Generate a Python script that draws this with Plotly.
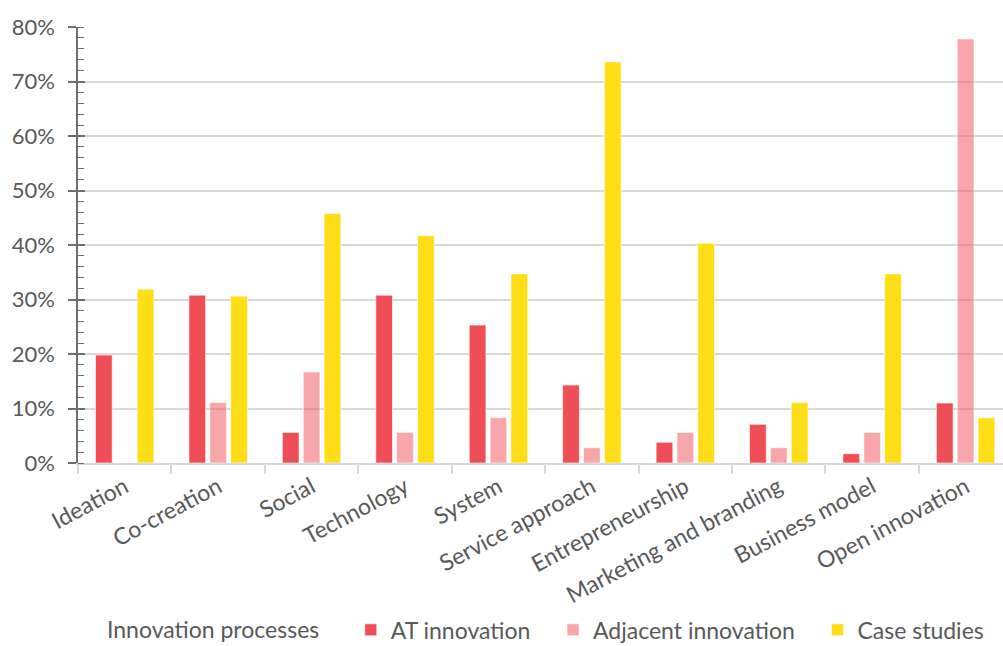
import plotly.graph_objects as go

# Share of sources per innovation process
categories = [
    "Ideation", "Co-creation", "Social", "Technology", "System",
    "Service approach", "Entrepreneurship", "Marketing and branding",
    "Business model", "Open innovation",
]
at_innovation = [0.198, 0.308, 0.056, 0.308, 0.253, 0.143, 0.038, 0.071, 0.017, 0.110]
adjacent_innovation = [0.0, 0.111, 0.167, 0.056, 0.083, 0.028, 0.056, 0.028, 0.056, 0.778]
case_studies = [0.319, 0.306, 0.458, 0.417, 0.347, 0.736, 0.403, 0.111, 0.347, 0.083]

y_ticks = [0, 0.1, 0.2, 0.3, 0.4, 0.5, 0.6, 0.7, 0.8]

FONT = "Lato"
FS = 23
TEXT_GREY = "#595959"
GRID = "#d9d9d9"
AXIS = "#6e6e6e"
RED = "rgb(240,78,86)"
EDGE = dict(color="rgba(255,255,255,0.6)", width=1)
PAD = "   "  # extra room after each legend entry

fig = go.Figure()
fig.add_trace(go.Bar(
    name="AT innovation" + PAD, x=categories, y=at_innovation,
    marker=dict(color=RED, line=EDGE),
))
fig.add_trace(go.Bar(
    name="Adjacent innovation" + PAD, x=categories, y=adjacent_innovation,
    marker=dict(color="rgba(240,78,86,0.5)", line=EDGE),
))
fig.add_trace(go.Bar(
    name="Case studies", x=categories, y=case_studies,
    marker=dict(color="#FFDD17", line=EDGE),
))
# invisible trace on an overlay axis to draw the inner part of the major ticks
fig.add_trace(go.Scatter(x=[categories[0]], y=[0], yaxis="y2", mode="markers",
                         marker=dict(opacity=0), showlegend=False, hoverinfo="skip"))

fig.update_layout(
    width=1003, height=646,
    margin=dict(l=78, r=0, t=27, b=183, autoexpand=False),
    paper_bgcolor="white", plot_bgcolor="white",
    font=dict(family=FONT, size=FS, color=TEXT_GREY),
    barmode="group", bargap=0.33, bargroupgap=0.2,
    showlegend=True,
    legend=dict(
        orientation="h", x=0.507, xanchor="center",
        yref="container", y=0.025, yanchor="middle",
        title=dict(text="Innovation processes    ", side="left",
                   font=dict(size=FS, color=TEXT_GREY)),
        font=dict(size=FS, color=TEXT_GREY), itemwidth=30, traceorder="normal",
    ),
    xaxis=dict(
        type="category", range=[-0.5, 9.4], automargin=False,
        tickangle=-28, tickson="boundaries", ticks="outside", ticklen=9,
        tickcolor=GRID, tickwidth=1.5,
        showline=True, linecolor=GRID, linewidth=1.5,
        showgrid=False, tickfont=dict(size=FS, color=TEXT_GREY),
    ),
    yaxis=dict(
        range=[0, 0.8], tickvals=y_ticks, tickformat=".0%", automargin=False,
        showgrid=True, gridcolor=GRID, gridwidth=1.5,
        showline=True, linecolor=AXIS, linewidth=1.5,
        ticks="outside", ticklen=8, tickcolor=AXIS, tickwidth=1.5,
        ticklabelstandoff=9,
        minor=dict(ticks="inside", dtick=0.02, ticklen=6, tickcolor=AXIS,
                   tickwidth=1.2, showgrid=False),
        zeroline=False, tickfont=dict(size=22, color=TEXT_GREY),
    ),
    yaxis2=dict(
        overlaying="y", matches="y", range=[0, 0.8], tickvals=y_ticks,
        showticklabels=False, ticks="inside", ticklen=7, automargin=False,
        tickcolor=AXIS, tickwidth=1.5, showgrid=False, showline=False,
        zeroline=False, side="left",
    ),
)

fig.write_html("out.html")
